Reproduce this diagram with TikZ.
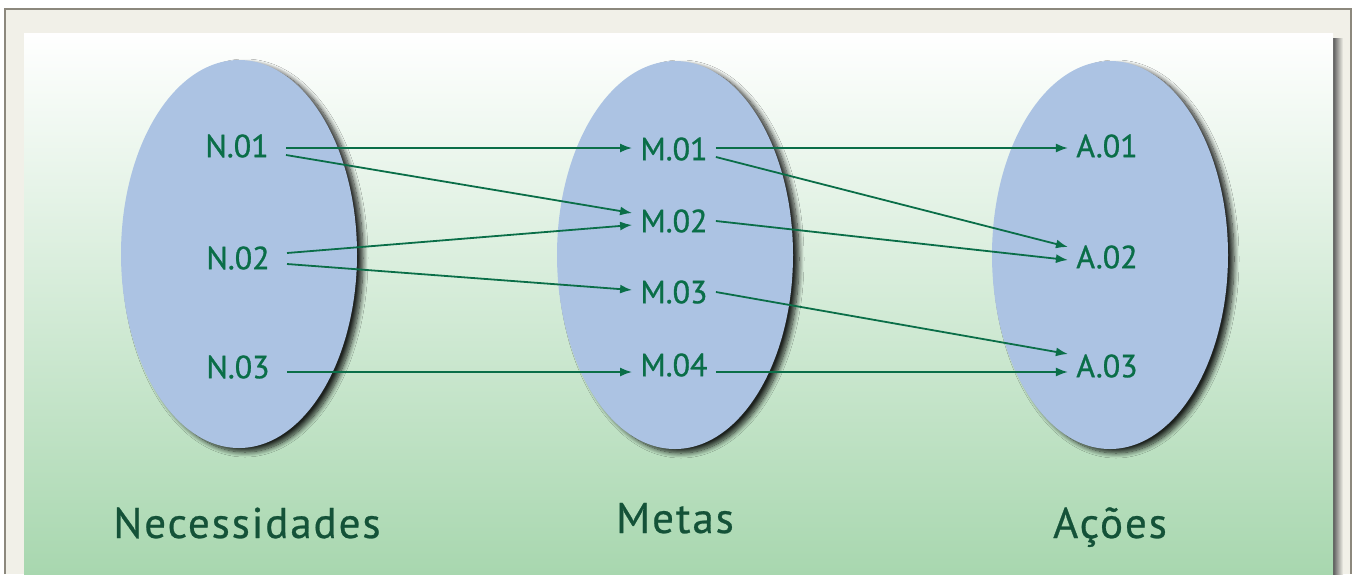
\documentclass[tikz,border=0pt]{standalone}
\usepackage{fontspec}
\setmainfont{PT Sans}
\newfontfamily\itemfont[FakeBold=0.9]{PT Sans}
\newfontfamily\titlefont[LetterSpace=4.5,FakeBold=0.6]{PT Sans}
\usepackage{tikz}
\usetikzlibrary{shadows}
\usetikzlibrary{shadows.blur}
\usetikzlibrary{positioning}
\usetikzlibrary{arrows.meta,shapes.geometric}
\usetikzlibrary{calc}
\definecolor{setblue}{RGB}{172,195,227}
\definecolor{itemgreen}{RGB}{10,110,72}
\definecolor{titlegreen}{RGB}{20,82,56}
\definecolor{panelgreen}{RGB}{168,215,175}
\definecolor{framebeige}{RGB}{241,240,232}
\definecolor{framegray}{RGB}{140,136,125}
\tikzstyle{set}=[ellipse,fill=setblue,minimum width=118pt,minimum height=194pt,inner sep=0pt,
    blur shadow={shadow xshift=3pt,shadow yshift=-2pt,shadow blur radius=2.5pt,shadow blur steps=10,shadow opacity=85}]
\tikzstyle{item}=[text=itemgreen,font=\itemfont\fontsize{16}{18}\selectfont,inner xsep=4pt,inner ysep=0pt]
\tikzstyle{sourceitem}=[item,inner xsep=8.5pt]
\tikzstyle{edge} = [draw,itemgreen,line width=0.9pt,-{Latex[length=6pt,width=4.5pt]}]
\tikzstyle{title} = [text=titlegreen,font=\titlefont\fontsize{21.5}{24}\selectfont,anchor=base]

\begin{document}
\begin{tikzpicture}[x=0.5pt,y=-0.5pt]
    % Frame and green panel
    \useasboundingbox (0,0) rectangle (1356,574);
    \fill[white] (0,0) rectangle (1356,574);
    \fill[framebeige] (5,9) rectangle (1351,574);
    \draw[framegray,line width=1pt] (5,574) -- (5,9) -- (1351,9) -- (1351,574);
    \shade[left color=black!65,right color=framebeige] (1333,38) rectangle (1343,574);
    \shade[top color=white,bottom color=panelgreen] (24,33) rectangle (1333,574);

    % First we draw the three sets
    \foreach \pos/\name in {{(239,254)/nec}, {(675,255)/met}, {(1110,255)/aco}}
        \node[set] (\name) at \pos {};

    % Then the items inside them
    \foreach \pos/\name/\label in {{(237,146)/N1/N.01}, {(238,258)/N2/N.02}, {(238,367)/N3/N.03}}
        \node[sourceitem] (\name) at \pos {\label};
    \foreach \pos/\name/\label in {{(674,149)/M1/M.01}, {(674,221)/M2/M.02}, {(674,292)/M3/M.03}, {(674,365)/M4/M.04},
                                   {(1107,146)/A1/A.01}, {(1107,257)/A2/A.02}, {(1107,366)/A3/A.03}}
        \node[item] (\name) at \pos {\label};

    % Connect items with arrows
    \foreach \source/\sy/\dest/\dy in {N1/2/M1/-1, N1/9/M2/-8, N2/-5/M2/4, N2/6/M3/-2, N3/5/M4/7,
                                       M1/-1/A1/2, M1/8/A2/-10, M2/0/A2/3, M3/0/A3/-12, M4/7/A3/6}
        \path[edge] ([shift={(0,\sy)}]\source.east) -- ([shift={(0,\dy)}]\dest.west);

    % Titles under the sets
    \node[title] (tnec) at (247,538) {Necessidades};
    \node[title] (tmet) at (675,533) {Metas};
    \node[title] (taco) at (1110,538) {Ações};
\end{tikzpicture}
\end{document}
